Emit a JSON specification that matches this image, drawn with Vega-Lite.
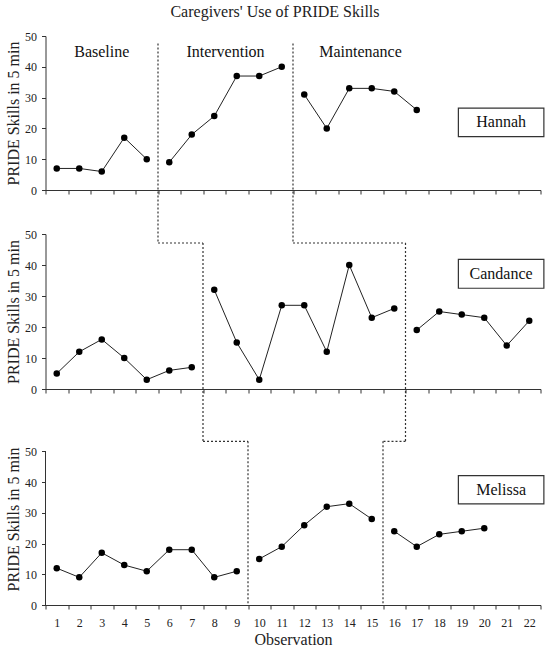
{
  "$schema": "https://vega.github.io/schema/vega-lite/v6.json",
  "padding": {"left": 4.5, "top": 4, "right": 5, "bottom": 5},
  "title": {
    "text": "Caregivers' Use of PRIDE Skills",
    "fontSize": 16,
    "fontWeight": "normal",
    "font": "Liberation Serif",
    "color": "#222",
    "anchor": "middle",
    "offset": 10
  },
  "datasets": {
    "obs": [
      {"participant": "Hannah", "session": 1, "value": 7, "phase": "Baseline"},
      {"participant": "Hannah", "session": 2, "value": 7, "phase": "Baseline"},
      {"participant": "Hannah", "session": 3, "value": 6, "phase": "Baseline"},
      {"participant": "Hannah", "session": 4, "value": 17, "phase": "Baseline"},
      {"participant": "Hannah", "session": 5, "value": 10, "phase": "Baseline"},
      {"participant": "Hannah", "session": 6, "value": 9, "phase": "Intervention"},
      {"participant": "Hannah", "session": 7, "value": 18, "phase": "Intervention"},
      {"participant": "Hannah", "session": 8, "value": 24, "phase": "Intervention"},
      {"participant": "Hannah", "session": 9, "value": 37, "phase": "Intervention"},
      {"participant": "Hannah", "session": 10, "value": 37, "phase": "Intervention"},
      {"participant": "Hannah", "session": 11, "value": 40, "phase": "Intervention"},
      {"participant": "Hannah", "session": 12, "value": 31, "phase": "Maintenance"},
      {"participant": "Hannah", "session": 13, "value": 20, "phase": "Maintenance"},
      {"participant": "Hannah", "session": 14, "value": 33, "phase": "Maintenance"},
      {"participant": "Hannah", "session": 15, "value": 33, "phase": "Maintenance"},
      {"participant": "Hannah", "session": 16, "value": 32, "phase": "Maintenance"},
      {"participant": "Hannah", "session": 17, "value": 26, "phase": "Maintenance"},
      {"participant": "Candance", "session": 1, "value": 5, "phase": "Baseline"},
      {"participant": "Candance", "session": 2, "value": 12, "phase": "Baseline"},
      {"participant": "Candance", "session": 3, "value": 16, "phase": "Baseline"},
      {"participant": "Candance", "session": 4, "value": 10, "phase": "Baseline"},
      {"participant": "Candance", "session": 5, "value": 3, "phase": "Baseline"},
      {"participant": "Candance", "session": 6, "value": 6, "phase": "Baseline"},
      {"participant": "Candance", "session": 7, "value": 7, "phase": "Baseline"},
      {"participant": "Candance", "session": 8, "value": 32, "phase": "Intervention"},
      {"participant": "Candance", "session": 9, "value": 15, "phase": "Intervention"},
      {"participant": "Candance", "session": 10, "value": 3, "phase": "Intervention"},
      {"participant": "Candance", "session": 11, "value": 27, "phase": "Intervention"},
      {"participant": "Candance", "session": 12, "value": 27, "phase": "Intervention"},
      {"participant": "Candance", "session": 13, "value": 12, "phase": "Intervention"},
      {"participant": "Candance", "session": 14, "value": 40, "phase": "Intervention"},
      {"participant": "Candance", "session": 15, "value": 23, "phase": "Intervention"},
      {"participant": "Candance", "session": 16, "value": 26, "phase": "Intervention"},
      {"participant": "Candance", "session": 17, "value": 19, "phase": "Maintenance"},
      {"participant": "Candance", "session": 18, "value": 25, "phase": "Maintenance"},
      {"participant": "Candance", "session": 19, "value": 24, "phase": "Maintenance"},
      {"participant": "Candance", "session": 20, "value": 23, "phase": "Maintenance"},
      {"participant": "Candance", "session": 21, "value": 14, "phase": "Maintenance"},
      {"participant": "Candance", "session": 22, "value": 22, "phase": "Maintenance"},
      {"participant": "Melissa", "session": 1, "value": 12, "phase": "Baseline"},
      {"participant": "Melissa", "session": 2, "value": 9, "phase": "Baseline"},
      {"participant": "Melissa", "session": 3, "value": 17, "phase": "Baseline"},
      {"participant": "Melissa", "session": 4, "value": 13, "phase": "Baseline"},
      {"participant": "Melissa", "session": 5, "value": 11, "phase": "Baseline"},
      {"participant": "Melissa", "session": 6, "value": 18, "phase": "Baseline"},
      {"participant": "Melissa", "session": 7, "value": 18, "phase": "Baseline"},
      {"participant": "Melissa", "session": 8, "value": 9, "phase": "Baseline"},
      {"participant": "Melissa", "session": 9, "value": 11, "phase": "Baseline"},
      {"participant": "Melissa", "session": 10, "value": 15, "phase": "Intervention"},
      {"participant": "Melissa", "session": 11, "value": 19, "phase": "Intervention"},
      {"participant": "Melissa", "session": 12, "value": 26, "phase": "Intervention"},
      {"participant": "Melissa", "session": 13, "value": 32, "phase": "Intervention"},
      {"participant": "Melissa", "session": 14, "value": 33, "phase": "Intervention"},
      {"participant": "Melissa", "session": 15, "value": 28, "phase": "Intervention"},
      {"participant": "Melissa", "session": 16, "value": 24, "phase": "Maintenance"},
      {"participant": "Melissa", "session": 17, "value": 19, "phase": "Maintenance"},
      {"participant": "Melissa", "session": 18, "value": 23, "phase": "Maintenance"},
      {"participant": "Melissa", "session": 19, "value": 24, "phase": "Maintenance"},
      {"participant": "Melissa", "session": 20, "value": 25, "phase": "Maintenance"}
    ],
    "phaseLines": [
      {"participant": "Hannah", "from": 5.5, "to": 5.5},
      {"participant": "Hannah", "from": 11.5, "to": 11.5},
      {"participant": "Candance", "from": 5.5, "to": 7.5},
      {"participant": "Candance", "from": 11.5, "to": 16.5},
      {"participant": "Melissa", "from": 7.5, "to": 9.5},
      {"participant": "Melissa", "from": 16.5, "to": 15.5}
    ],
    "phaseNames": [
      {"phase": "Baseline", "center": 3},
      {"phase": "Intervention", "center": 8.5},
      {"phase": "Maintenance", "center": 14.5}
    ],
    "participants": [
      {"participant": "Hannah"},
      {"participant": "Candance"},
      {"participant": "Melissa"}
    ]
  },
  "spacing": 44,
  "bounds": "flush",
  "vconcat": [
    {
      "width": 495,
      "height": 154,
      "layer": [
        {
          "data": {"name": "phaseLines"},
          "transform": [{"filter": "datum.participant === 'Hannah'"}],
          "mark": {"type": "rule", "strokeDash": [2, 2], "color": "#333", "strokeWidth": 1.2, "clip": false},
          "encoding": {
            "x": {"field": "to", "type": "quantitative", "scale": {"domain": [0.5, 22.5], "nice": false, "zero": false},
              "axis": {"values": [0.5, 1.5, 2.5, 3.5, 4.5, 5.5, 6.5, 7.5, 8.5, 9.5, 10.5, 11.5, 12.5, 13.5, 14.5, 15.5, 16.5, 17.5, 18.5, 19.5, 20.5, 21.5, 22.5], "labels": false, "title": null, "grid": false, "domainColor": "#333", "tickColor": "#333", "tickSize": 4}},
            "y": {"datum": 47.6, "type": "quantitative", "scale": {"domain": [0, 50], "nice": false},
              "axis": {"values": [0, 10, 20, 30, 40, 50], "title": "PRIDE Skills in 5 min", "titlePadding": 3, "grid": false, "labelFont": "Liberation Serif", "titleFont": "Liberation Serif", "labelFontSize": 12, "titleFontSize": 16, "titleFontWeight": "normal", "labelColor": "#222", "titleColor": "#222", "domainColor": "#333", "tickColor": "#333", "tickSize": 4, "labelPadding": 5}},
            "y2": {"datum": -17}
          }
        },
        {
          "data": {"name": "obs"},
          "transform": [{"filter": "datum.participant === 'Hannah'"}],
          "mark": {"type": "line", "color": "#222", "strokeWidth": 1, "point": {"filled": true, "color": "#000", "size": 42, "opacity": 1}},
          "encoding": {
            "x": {"field": "session", "type": "quantitative", "scale": {"domain": [0.5, 22.5], "nice": false, "zero": false},
              "axis": {"values": [0.5, 1.5, 2.5, 3.5, 4.5, 5.5, 6.5, 7.5, 8.5, 9.5, 10.5, 11.5, 12.5, 13.5, 14.5, 15.5, 16.5, 17.5, 18.5, 19.5, 20.5, 21.5, 22.5], "labels": false, "title": null, "grid": false, "domainColor": "#333", "tickColor": "#333", "tickSize": 4}},
            "y": {"field": "value", "type": "quantitative", "scale": {"domain": [0, 50], "nice": false},
              "axis": {"values": [0, 10, 20, 30, 40, 50], "title": "PRIDE Skills in 5 min", "titlePadding": 3, "grid": false, "labelFont": "Liberation Serif", "titleFont": "Liberation Serif", "labelFontSize": 12, "titleFontSize": 16, "titleFontWeight": "normal", "labelColor": "#222", "titleColor": "#222", "domainColor": "#333", "tickColor": "#333", "tickSize": 4, "labelPadding": 5}},
            "detail": {"field": "phase"}
          }
        },
        {
          "data": {"name": "phaseNames"},
          "mark": {"type": "text", "fontSize": 16, "font": "Liberation Serif", "color": "#111", "baseline": "middle"},
          "encoding": {
            "x": {"field": "center", "type": "quantitative", "scale": {"domain": [0.5, 22.5], "nice": false, "zero": false},
              "axis": {"values": [0.5, 1.5, 2.5, 3.5, 4.5, 5.5, 6.5, 7.5, 8.5, 9.5, 10.5, 11.5, 12.5, 13.5, 14.5, 15.5, 16.5, 17.5, 18.5, 19.5, 20.5, 21.5, 22.5], "labels": false, "title": null, "grid": false, "domainColor": "#333", "tickColor": "#333", "tickSize": 4}},
            "y": {"datum": 44.9, "type": "quantitative", "scale": {"domain": [0, 50], "nice": false},
              "axis": {"values": [0, 10, 20, 30, 40, 50], "title": "PRIDE Skills in 5 min", "titlePadding": 3, "grid": false, "labelFont": "Liberation Serif", "titleFont": "Liberation Serif", "labelFontSize": 12, "titleFontSize": 16, "titleFontWeight": "normal", "labelColor": "#222", "titleColor": "#222", "domainColor": "#333", "tickColor": "#333", "tickSize": 4, "labelPadding": 5}},
            "text": {"field": "phase"}
          }
        },
        {
          "data": {"name": "participants"},
          "transform": [{"filter": "datum.participant === 'Hannah'"}],
          "mark": {"type": "rect", "fill": "#fff", "stroke": "#333", "strokeWidth": 1.2, "clip": false},
          "encoding": {
            "x": {"datum": 18.85, "type": "quantitative", "scale": {"domain": [0.5, 22.5], "nice": false, "zero": false},
              "axis": {"values": [0.5, 1.5, 2.5, 3.5, 4.5, 5.5, 6.5, 7.5, 8.5, 9.5, 10.5, 11.5, 12.5, 13.5, 14.5, 15.5, 16.5, 17.5, 18.5, 19.5, 20.5, 21.5, 22.5], "labels": false, "title": null, "grid": false, "domainColor": "#333", "tickColor": "#333", "tickSize": 4}},
            "x2": {"datum": 22.65},
            "y": {"datum": 26.6, "type": "quantitative", "scale": {"domain": [0, 50], "nice": false},
              "axis": {"values": [0, 10, 20, 30, 40, 50], "title": "PRIDE Skills in 5 min", "titlePadding": 3, "grid": false, "labelFont": "Liberation Serif", "titleFont": "Liberation Serif", "labelFontSize": 12, "titleFontSize": 16, "titleFontWeight": "normal", "labelColor": "#222", "titleColor": "#222", "domainColor": "#333", "tickColor": "#333", "tickSize": 4, "labelPadding": 5}},
            "y2": {"datum": 17.3}
          }
        },
        {
          "data": {"name": "participants"},
          "transform": [{"filter": "datum.participant === 'Hannah'"}],
          "mark": {"type": "text", "fontSize": 16, "font": "Liberation Serif", "color": "#111", "baseline": "middle"},
          "encoding": {
            "x": {"datum": 20.75, "type": "quantitative", "scale": {"domain": [0.5, 22.5], "nice": false, "zero": false},
              "axis": {"values": [0.5, 1.5, 2.5, 3.5, 4.5, 5.5, 6.5, 7.5, 8.5, 9.5, 10.5, 11.5, 12.5, 13.5, 14.5, 15.5, 16.5, 17.5, 18.5, 19.5, 20.5, 21.5, 22.5], "labels": false, "title": null, "grid": false, "domainColor": "#333", "tickColor": "#333", "tickSize": 4}},
            "y": {"datum": 22, "type": "quantitative", "scale": {"domain": [0, 50], "nice": false},
              "axis": {"values": [0, 10, 20, 30, 40, 50], "title": "PRIDE Skills in 5 min", "titlePadding": 3, "grid": false, "labelFont": "Liberation Serif", "titleFont": "Liberation Serif", "labelFontSize": 12, "titleFontSize": 16, "titleFontWeight": "normal", "labelColor": "#222", "titleColor": "#222", "domainColor": "#333", "tickColor": "#333", "tickSize": 4, "labelPadding": 5}},
            "text": {"field": "participant"}
          }
        }
      ]
    },
    {
      "width": 495,
      "height": 155,
      "layer": [
        {
          "data": {"name": "phaseLines"},
          "transform": [{"filter": "datum.participant === 'Candance'"}],
          "mark": {"type": "rule", "strokeDash": [2, 2], "color": "#333", "strokeWidth": 1.2, "clip": false},
          "encoding": {
            "x": {"field": "from", "type": "quantitative", "scale": {"domain": [0.5, 22.5], "nice": false, "zero": false},
              "axis": {"values": [0.5, 1.5, 2.5, 3.5, 4.5, 5.5, 6.5, 7.5, 8.5, 9.5, 10.5, 11.5, 12.5, 13.5, 14.5, 15.5, 16.5, 17.5, 18.5, 19.5, 20.5, 21.5, 22.5], "labels": false, "title": null, "grid": false, "domainColor": "#333", "tickColor": "#333", "tickSize": 4}},
            "x2": {"field": "to"},
            "y": {"datum": 47.1, "type": "quantitative", "scale": {"domain": [0, 50], "nice": false},
              "axis": {"values": [0, 10, 20, 30, 40, 50], "title": "PRIDE Skills in 5 min", "titlePadding": 3, "grid": false, "labelFont": "Liberation Serif", "titleFont": "Liberation Serif", "labelFontSize": 12, "titleFontSize": 16, "titleFontWeight": "normal", "labelColor": "#222", "titleColor": "#222", "domainColor": "#333", "tickColor": "#333", "tickSize": 4, "labelPadding": 5}}
          }
        },
        {
          "data": {"name": "phaseLines"},
          "transform": [{"filter": "datum.participant === 'Candance'"}],
          "mark": {"type": "rule", "strokeDash": [2, 2], "color": "#333", "strokeWidth": 1.2, "clip": false},
          "encoding": {
            "x": {"field": "to", "type": "quantitative", "scale": {"domain": [0.5, 22.5], "nice": false, "zero": false},
              "axis": {"values": [0.5, 1.5, 2.5, 3.5, 4.5, 5.5, 6.5, 7.5, 8.5, 9.5, 10.5, 11.5, 12.5, 13.5, 14.5, 15.5, 16.5, 17.5, 18.5, 19.5, 20.5, 21.5, 22.5], "labels": false, "title": null, "grid": false, "domainColor": "#333", "tickColor": "#333", "tickSize": 4}},
            "y": {"datum": 47.1, "type": "quantitative", "scale": {"domain": [0, 50], "nice": false},
              "axis": {"values": [0, 10, 20, 30, 40, 50], "title": "PRIDE Skills in 5 min", "titlePadding": 3, "grid": false, "labelFont": "Liberation Serif", "titleFont": "Liberation Serif", "labelFontSize": 12, "titleFontSize": 16, "titleFontWeight": "normal", "labelColor": "#222", "titleColor": "#222", "domainColor": "#333", "tickColor": "#333", "tickSize": 4, "labelPadding": 5}},
            "y2": {"datum": -16.8}
          }
        },
        {
          "data": {"name": "obs"},
          "transform": [{"filter": "datum.participant === 'Candance'"}],
          "mark": {"type": "line", "color": "#222", "strokeWidth": 1, "point": {"filled": true, "color": "#000", "size": 42, "opacity": 1}},
          "encoding": {
            "x": {"field": "session", "type": "quantitative", "scale": {"domain": [0.5, 22.5], "nice": false, "zero": false},
              "axis": {"values": [0.5, 1.5, 2.5, 3.5, 4.5, 5.5, 6.5, 7.5, 8.5, 9.5, 10.5, 11.5, 12.5, 13.5, 14.5, 15.5, 16.5, 17.5, 18.5, 19.5, 20.5, 21.5, 22.5], "labels": false, "title": null, "grid": false, "domainColor": "#333", "tickColor": "#333", "tickSize": 4}},
            "y": {"field": "value", "type": "quantitative", "scale": {"domain": [0, 50], "nice": false},
              "axis": {"values": [0, 10, 20, 30, 40, 50], "title": "PRIDE Skills in 5 min", "titlePadding": 3, "grid": false, "labelFont": "Liberation Serif", "titleFont": "Liberation Serif", "labelFontSize": 12, "titleFontSize": 16, "titleFontWeight": "normal", "labelColor": "#222", "titleColor": "#222", "domainColor": "#333", "tickColor": "#333", "tickSize": 4, "labelPadding": 5}},
            "detail": {"field": "phase"}
          }
        },
        {
          "data": {"name": "participants"},
          "transform": [{"filter": "datum.participant === 'Candance'"}],
          "mark": {"type": "rect", "fill": "#fff", "stroke": "#333", "strokeWidth": 1.2, "clip": false},
          "encoding": {
            "x": {"datum": 18.85, "type": "quantitative", "scale": {"domain": [0.5, 22.5], "nice": false, "zero": false},
              "axis": {"values": [0.5, 1.5, 2.5, 3.5, 4.5, 5.5, 6.5, 7.5, 8.5, 9.5, 10.5, 11.5, 12.5, 13.5, 14.5, 15.5, 16.5, 17.5, 18.5, 19.5, 20.5, 21.5, 22.5], "labels": false, "title": null, "grid": false, "domainColor": "#333", "tickColor": "#333", "tickSize": 4}},
            "x2": {"datum": 22.65},
            "y": {"datum": 41.8, "type": "quantitative", "scale": {"domain": [0, 50], "nice": false},
              "axis": {"values": [0, 10, 20, 30, 40, 50], "title": "PRIDE Skills in 5 min", "titlePadding": 3, "grid": false, "labelFont": "Liberation Serif", "titleFont": "Liberation Serif", "labelFontSize": 12, "titleFontSize": 16, "titleFontWeight": "normal", "labelColor": "#222", "titleColor": "#222", "domainColor": "#333", "tickColor": "#333", "tickSize": 4, "labelPadding": 5}},
            "y2": {"datum": 32.5}
          }
        },
        {
          "data": {"name": "participants"},
          "transform": [{"filter": "datum.participant === 'Candance'"}],
          "mark": {"type": "text", "fontSize": 16, "font": "Liberation Serif", "color": "#111", "baseline": "middle"},
          "encoding": {
            "x": {"datum": 20.75, "type": "quantitative", "scale": {"domain": [0.5, 22.5], "nice": false, "zero": false},
              "axis": {"values": [0.5, 1.5, 2.5, 3.5, 4.5, 5.5, 6.5, 7.5, 8.5, 9.5, 10.5, 11.5, 12.5, 13.5, 14.5, 15.5, 16.5, 17.5, 18.5, 19.5, 20.5, 21.5, 22.5], "labels": false, "title": null, "grid": false, "domainColor": "#333", "tickColor": "#333", "tickSize": 4}},
            "y": {"datum": 37.1, "type": "quantitative", "scale": {"domain": [0, 50], "nice": false},
              "axis": {"values": [0, 10, 20, 30, 40, 50], "title": "PRIDE Skills in 5 min", "titlePadding": 3, "grid": false, "labelFont": "Liberation Serif", "titleFont": "Liberation Serif", "labelFontSize": 12, "titleFontSize": 16, "titleFontWeight": "normal", "labelColor": "#222", "titleColor": "#222", "domainColor": "#333", "tickColor": "#333", "tickSize": 4, "labelPadding": 5}},
            "text": {"field": "participant"}
          }
        }
      ]
    },
    {
      "width": 495,
      "height": 172,
      "layer": [
        {
          "data": {"name": "phaseLines"},
          "transform": [{"filter": "datum.participant === 'Melissa'"}],
          "mark": {"type": "rule", "strokeDash": [2, 2], "color": "#333", "strokeWidth": 1.2, "clip": false},
          "encoding": {
            "x": {"field": "from", "type": "quantitative", "scale": {"domain": [0.5, 22.5], "nice": false, "zero": false},
              "axis": {"values": [0.5, 1.5, 2.5, 3.5, 4.5, 5.5, 6.5, 7.5, 8.5, 9.5, 10.5, 11.5, 12.5, 13.5, 14.5, 15.5, 16.5, 17.5, 18.5, 19.5, 20.5, 21.5, 22.5], "labelExpr": "datum.value < 1 ? '' : format(datum.value - 0.5, 'd')", "labelOffset": -11.25, "labelFlush": false, "labelOverlap": false, "labelBound": false, "title": "Observation", "titlePadding": 3, "grid": false, "labelFont": "Liberation Serif", "titleFont": "Liberation Serif", "labelFontSize": 12, "titleFontSize": 16, "titleFontWeight": "normal", "labelColor": "#222", "titleColor": "#222", "domainColor": "#333", "tickColor": "#333", "tickSize": 4, "labelPadding": 8}},
            "x2": {"field": "to"},
            "y": {"datum": 53.3, "type": "quantitative", "scale": {"domain": [0, 56], "nice": false},
              "axis": {"values": [0, 10, 20, 30, 40, 50], "domain": false, "title": "PRIDE Skills in 5 min", "titlePadding": 3, "grid": false, "labelFont": "Liberation Serif", "titleFont": "Liberation Serif", "labelFontSize": 12, "titleFontSize": 16, "titleFontWeight": "normal", "labelColor": "#222", "titleColor": "#222", "tickColor": "#333", "tickSize": 4, "labelPadding": 5}}
          }
        },
        {
          "data": {"name": "phaseLines"},
          "transform": [{"filter": "datum.participant === 'Melissa'"}],
          "mark": {"type": "rule", "strokeDash": [2, 2], "color": "#333", "strokeWidth": 1.2, "clip": false},
          "encoding": {
            "x": {"field": "to", "type": "quantitative", "scale": {"domain": [0.5, 22.5], "nice": false, "zero": false},
              "axis": {"values": [0.5, 1.5, 2.5, 3.5, 4.5, 5.5, 6.5, 7.5, 8.5, 9.5, 10.5, 11.5, 12.5, 13.5, 14.5, 15.5, 16.5, 17.5, 18.5, 19.5, 20.5, 21.5, 22.5], "labelExpr": "datum.value < 1 ? '' : format(datum.value - 0.5, 'd')", "labelOffset": -11.25, "labelFlush": false, "labelOverlap": false, "labelBound": false, "title": "Observation", "titlePadding": 3, "grid": false, "labelFont": "Liberation Serif", "titleFont": "Liberation Serif", "labelFontSize": 12, "titleFontSize": 16, "titleFontWeight": "normal", "labelColor": "#222", "titleColor": "#222", "domainColor": "#333", "tickColor": "#333", "tickSize": 4, "labelPadding": 8}},
            "y": {"datum": 53.3, "type": "quantitative", "scale": {"domain": [0, 56], "nice": false},
              "axis": {"values": [0, 10, 20, 30, 40, 50], "domain": false, "title": "PRIDE Skills in 5 min", "titlePadding": 3, "grid": false, "labelFont": "Liberation Serif", "titleFont": "Liberation Serif", "labelFontSize": 12, "titleFontSize": 16, "titleFontWeight": "normal", "labelColor": "#222", "titleColor": "#222", "tickColor": "#333", "tickSize": 4, "labelPadding": 5}},
            "y2": {"datum": 0}
          }
        },
        {
          "data": {"name": "participants"},
          "transform": [{"filter": "datum.participant === 'Melissa'"}],
          "mark": {"type": "rule", "color": "#333", "strokeWidth": 1},
          "encoding": {
            "x": {"datum": 0.5, "type": "quantitative", "scale": {"domain": [0.5, 22.5], "nice": false, "zero": false},
              "axis": {"values": [0.5, 1.5, 2.5, 3.5, 4.5, 5.5, 6.5, 7.5, 8.5, 9.5, 10.5, 11.5, 12.5, 13.5, 14.5, 15.5, 16.5, 17.5, 18.5, 19.5, 20.5, 21.5, 22.5], "labelExpr": "datum.value < 1 ? '' : format(datum.value - 0.5, 'd')", "labelOffset": -11.25, "labelFlush": false, "labelOverlap": false, "labelBound": false, "title": "Observation", "titlePadding": 3, "grid": false, "labelFont": "Liberation Serif", "titleFont": "Liberation Serif", "labelFontSize": 12, "titleFontSize": 16, "titleFontWeight": "normal", "labelColor": "#222", "titleColor": "#222", "domainColor": "#333", "tickColor": "#333", "tickSize": 4, "labelPadding": 8}},
            "y": {"datum": 0, "type": "quantitative", "scale": {"domain": [0, 56], "nice": false},
              "axis": {"values": [0, 10, 20, 30, 40, 50], "domain": false, "title": "PRIDE Skills in 5 min", "titlePadding": 3, "grid": false, "labelFont": "Liberation Serif", "titleFont": "Liberation Serif", "labelFontSize": 12, "titleFontSize": 16, "titleFontWeight": "normal", "labelColor": "#222", "titleColor": "#222", "tickColor": "#333", "tickSize": 4, "labelPadding": 5}},
            "y2": {"datum": 50}
          }
        },
        {
          "data": {"name": "obs"},
          "transform": [{"filter": "datum.participant === 'Melissa'"}],
          "mark": {"type": "line", "color": "#222", "strokeWidth": 1, "point": {"filled": true, "color": "#000", "size": 42, "opacity": 1}},
          "encoding": {
            "x": {"field": "session", "type": "quantitative", "scale": {"domain": [0.5, 22.5], "nice": false, "zero": false},
              "axis": {"values": [0.5, 1.5, 2.5, 3.5, 4.5, 5.5, 6.5, 7.5, 8.5, 9.5, 10.5, 11.5, 12.5, 13.5, 14.5, 15.5, 16.5, 17.5, 18.5, 19.5, 20.5, 21.5, 22.5], "labelExpr": "datum.value < 1 ? '' : format(datum.value - 0.5, 'd')", "labelOffset": -11.25, "labelFlush": false, "labelOverlap": false, "labelBound": false, "title": "Observation", "titlePadding": 3, "grid": false, "labelFont": "Liberation Serif", "titleFont": "Liberation Serif", "labelFontSize": 12, "titleFontSize": 16, "titleFontWeight": "normal", "labelColor": "#222", "titleColor": "#222", "domainColor": "#333", "tickColor": "#333", "tickSize": 4, "labelPadding": 8}},
            "y": {"field": "value", "type": "quantitative", "scale": {"domain": [0, 56], "nice": false},
              "axis": {"values": [0, 10, 20, 30, 40, 50], "domain": false, "title": "PRIDE Skills in 5 min", "titlePadding": 3, "grid": false, "labelFont": "Liberation Serif", "titleFont": "Liberation Serif", "labelFontSize": 12, "titleFontSize": 16, "titleFontWeight": "normal", "labelColor": "#222", "titleColor": "#222", "tickColor": "#333", "tickSize": 4, "labelPadding": 5}},
            "detail": {"field": "phase"}
          }
        },
        {
          "data": {"name": "participants"},
          "transform": [{"filter": "datum.participant === 'Melissa'"}],
          "mark": {"type": "rect", "fill": "#fff", "stroke": "#333", "strokeWidth": 1.2, "clip": false},
          "encoding": {
            "x": {"datum": 18.85, "type": "quantitative", "scale": {"domain": [0.5, 22.5], "nice": false, "zero": false},
              "axis": {"values": [0.5, 1.5, 2.5, 3.5, 4.5, 5.5, 6.5, 7.5, 8.5, 9.5, 10.5, 11.5, 12.5, 13.5, 14.5, 15.5, 16.5, 17.5, 18.5, 19.5, 20.5, 21.5, 22.5], "labelExpr": "datum.value < 1 ? '' : format(datum.value - 0.5, 'd')", "labelOffset": -11.25, "labelFlush": false, "labelOverlap": false, "labelBound": false, "title": "Observation", "titlePadding": 3, "grid": false, "labelFont": "Liberation Serif", "titleFont": "Liberation Serif", "labelFontSize": 12, "titleFontSize": 16, "titleFontWeight": "normal", "labelColor": "#222", "titleColor": "#222", "domainColor": "#333", "tickColor": "#333", "tickSize": 4, "labelPadding": 8}},
            "x2": {"datum": 22.65},
            "y": {"datum": 42.1, "type": "quantitative", "scale": {"domain": [0, 56], "nice": false},
              "axis": {"values": [0, 10, 20, 30, 40, 50], "domain": false, "title": "PRIDE Skills in 5 min", "titlePadding": 3, "grid": false, "labelFont": "Liberation Serif", "titleFont": "Liberation Serif", "labelFontSize": 12, "titleFontSize": 16, "titleFontWeight": "normal", "labelColor": "#222", "titleColor": "#222", "tickColor": "#333", "tickSize": 4, "labelPadding": 5}},
            "y2": {"datum": 32.9}
          }
        },
        {
          "data": {"name": "participants"},
          "transform": [{"filter": "datum.participant === 'Melissa'"}],
          "mark": {"type": "text", "fontSize": 16, "font": "Liberation Serif", "color": "#111", "baseline": "middle"},
          "encoding": {
            "x": {"datum": 20.75, "type": "quantitative", "scale": {"domain": [0.5, 22.5], "nice": false, "zero": false},
              "axis": {"values": [0.5, 1.5, 2.5, 3.5, 4.5, 5.5, 6.5, 7.5, 8.5, 9.5, 10.5, 11.5, 12.5, 13.5, 14.5, 15.5, 16.5, 17.5, 18.5, 19.5, 20.5, 21.5, 22.5], "labelExpr": "datum.value < 1 ? '' : format(datum.value - 0.5, 'd')", "labelOffset": -11.25, "labelFlush": false, "labelOverlap": false, "labelBound": false, "title": "Observation", "titlePadding": 3, "grid": false, "labelFont": "Liberation Serif", "titleFont": "Liberation Serif", "labelFontSize": 12, "titleFontSize": 16, "titleFontWeight": "normal", "labelColor": "#222", "titleColor": "#222", "domainColor": "#333", "tickColor": "#333", "tickSize": 4, "labelPadding": 8}},
            "y": {"datum": 37.5, "type": "quantitative", "scale": {"domain": [0, 56], "nice": false},
              "axis": {"values": [0, 10, 20, 30, 40, 50], "domain": false, "title": "PRIDE Skills in 5 min", "titlePadding": 3, "grid": false, "labelFont": "Liberation Serif", "titleFont": "Liberation Serif", "labelFontSize": 12, "titleFontSize": 16, "titleFontWeight": "normal", "labelColor": "#222", "titleColor": "#222", "tickColor": "#333", "tickSize": 4, "labelPadding": 5}},
            "text": {"field": "participant"}
          }
        }
      ]
    }
  ],
  "config": {
    "font": "Liberation Serif",
    "view": {"stroke": null}
  }
}
